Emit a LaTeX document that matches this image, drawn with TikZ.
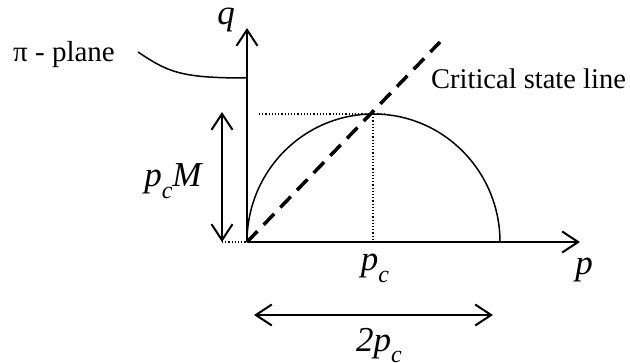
\documentclass[tikz,border=0pt]{standalone}
\usepackage{fontspec}
\setmainfont{Liberation Serif}
\usetikzlibrary{arrows.meta}
\newcommand{\subc}{\raisebox{-0.33em}{\fontsize{24}{24}\selectfont\itshape c}}
\newcommand{\pcsym}{{\itshape p}\subc}
\tikzset{
  axis/.style={line width=2pt,-{Straight Barb[length=16pt,width=21pt,line width=2pt]}},
  dbl/.style={line width=2pt,{Straight Barb[length=16pt,width=21pt,line width=2pt]}-{Straight Barb[length=16pt,width=21pt,line width=2pt]}},
  guide/.style={line width=1.2pt,dotted},
  csl/.style={line width=3.5pt,dash pattern=on 15pt off 9pt},
  lbl/.style={inner sep=0pt,font=\fontsize{29}{34}\selectfont},
  lblbig/.style={inner sep=0pt,font=\fontsize{28.5}{34}\selectfont},
  mlbl/.style={inner sep=0pt,font=\fontsize{35}{40}\selectfont\itshape}
}
\begin{document}
\begin{tikzpicture}[x=1pt,y=1pt]
\useasboundingbox (0,0) rectangle (630,362);
\coordinate (O) at (247,120);
\coordinate (qtop) at (247,334);
\coordinate (pend) at (580,120);
\coordinate (peak) at (373,248);
\coordinate (cslend) at (440,320);
\coordinate (hdl) at (259,248);
\coordinate (hdr) at (384,248);
\coordinate (pcbase) at (373,120);
\coordinate (mbot) at (222,120);
\coordinate (mtop) at (222,250);
\coordinate (tl) at (254,47);
\coordinate (tr) at (493,47);
\coordinate (pistart) at (138,310);
\coordinate (piend) at (246,284);
% axes
\draw[axis] (O) -- (qtop);
\draw[axis] (O) -- (pend);
% yield ellipse
\draw[line width=1.5pt] (O) arc[start angle=180,end angle=0,x radius=126.5pt,y radius=128pt];
% guides
\draw[guide] (hdl) -- (hdr);
\draw[guide] (peak) -- (pcbase);
\draw[guide] (mbot) -- (O);
% critical state line
\draw[csl] (O) -- (cslend);
% dimension arrows
\draw[dbl] (mbot) -- (mtop);
\draw[dbl] (tl) -- (tr);
% pi-plane leader
\draw[line width=1.5pt] (pistart) .. controls (168,290) and (180,284) .. (piend);
% labels
\node[mlbl,anchor=base] (ql) at (226,337) {q};
\node[mlbl,anchor=base] (pl) at (584,88) {p};
\node[mlbl,anchor=base] (pcl) at (375,91) {\pcsym};
\node[mlbl,anchor=base] (twopc) at (379,11) {2\pcsym};
\node[mlbl,anchor=base] (pcml) at (173,175) {\pcsym M};
\node[lbl,anchor=base west] (pil) at (13,300) {π - plane};
\node[lblbig,anchor=base west] (csll) at (431,273) {Critical state line};
\end{tikzpicture}
\end{document}
